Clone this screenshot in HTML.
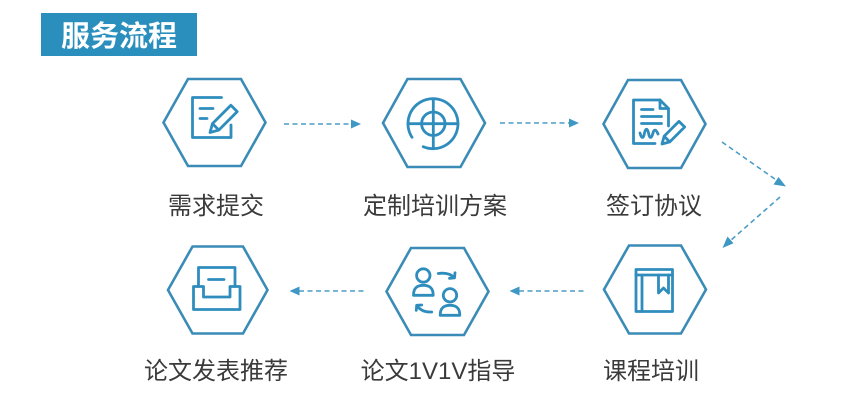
<!DOCTYPE html>
<html>
<head>
<meta charset="utf-8">
<style>
  html,body{margin:0;padding:0;background:#fff;}
  body{width:860px;height:406px;overflow:hidden;}
  svg{display:block;}
  .lbl{font-family:"Liberation Sans","Noto Sans CJK SC",sans-serif;font-size:24px;fill:#3a3a3a;}
  .hex{fill:none;stroke:#3a8cb7;stroke-width:2.6;stroke-linejoin:miter;}
  .ic{fill:none;stroke:#2f8dbd;stroke-width:2.8;stroke-linecap:round;stroke-linejoin:round;}
  .dash{fill:none;stroke:#4b9cc6;stroke-width:1.6;stroke-dasharray:5 3.5;}
  .ah{fill:#3f97c4;}
</style>
</head>
<body>
<svg width="860" height="406" viewBox="0 0 860 406" xmlns="http://www.w3.org/2000/svg">
  <defs>
    <linearGradient id="hg" x1="0" y1="0" x2="0" y2="1">
      <stop offset="0" stop-color="#4a9dc8"/>
      <stop offset="1" stop-color="#347fa9"/>
    </linearGradient>
  </defs>

  <!-- Title -->
  <rect x="41" y="13" width="156" height="43" fill="#2b8fbd"/>
  <text x="119" y="46" text-anchor="middle" style="font-family:'Liberation Sans','Noto Sans CJK SC',sans-serif;font-size:29px;font-weight:bold;fill:#fff;">服务流程</text>

  <!-- Hexagons row 1 -->
  <polygon class="hex" stroke="url(#hg)" points="163.5,122.5 188,79 241,79 265.5,122.5 241,166 188,166"/>
  <polygon class="hex" stroke="url(#hg)" points="383,123 407.5,79 460.5,79 485,123 460.5,167 407.5,167"/>
  <polygon class="hex" stroke="url(#hg)" points="603.5,124 628,80 681,80 705.5,124 681,168 628,168"/>

  <!-- Hexagons row 2 -->
  <polygon class="hex" stroke="url(#hg)" points="168,290 192.5,246.5 243,246.5 267.5,290 243,333.5 192.5,333.5"/>
  <polygon class="hex" stroke="url(#hg)" points="386.5,291.5 411,248 464,248 488.5,291.5 464,335 411,335"/>
  <polygon class="hex" stroke="url(#hg)" points="604,289.5 629,245.5 681,245.5 706,289.5 681,333.5 629,333.5"/>

  <!-- Icon 1: edit document -->
  <path class="ic" d="M221.5,97.5 H192.5 V137.5 H231 V125"/>
  <path class="ic" d="M200,108.5 H213 M200,118.5 H207"/>
  <g transform="translate(210,132.5) rotate(-45)">
    <path class="ic" d="M0,0 L8,-4.5 L34,-4.5 L34,4.5 L8,4.5 Z M8,-4.5 L8,4.5"/>
  </g>

  <!-- Icon 2: target -->
  <path class="ic" d="M412,137.3 A25,25 0 1 1 423.2,146.7"/>
  <circle class="ic" cx="433.3" cy="123.7" r="11.7"/>
  <path class="ic" d="M408.5,123.7 H458 M433.3,99 V148.5"/>

  <!-- Icon 3: contract -->
  <path class="ic" d="M660,100 H633.5 V143.5 H655"/>
  <path class="ic" d="M660,100 L668.5,108.5 V126 M660,100 V108.5 H668.5"/>
  <path class="ic" d="M641.5,109.5 H653 M641.5,116.5 H661.5 M641.5,123.5 H661.5"/>
  <path class="ic" d="M640,133 c1.5,6 3.5,6 4.5,0 c1,-5 3,-5 4,0 c1,6 3,6 4.5,0 c1,-4 3,-4 5,1"/>
  <g transform="translate(662,144) rotate(-45)">
    <path class="ic" d="M0,0 L7,-4 L28,-4 L28,4 L7,4 Z M7,-4 L7,4"/>
  </g>

  <!-- Icon 4: tray / publish -->
  <path class="ic" d="M198.5,286.5 V267.5 H235 V286.5"/>
  <path class="ic" d="M208.5,279.5 H224"/>
  <path class="ic" d="M193.5,286.5 H203.5 V297 H230 V286.5 H240 V309.5 H193.5 Z"/>

  <!-- Icon 5: 1v1 people -->
  <circle class="ic" cx="423.3" cy="275.5" r="6.7"/>
  <path class="ic" d="M413.5,295.3 C413.5,288 417,285.3 423.3,285.3 C429.6,285.3 433.2,288 433.2,295.3 Z"/>
  <circle class="ic" cx="450" cy="295.3" r="6.7"/>
  <path class="ic" d="M440.2,315.3 C440.2,308 443.7,305.3 450,305.3 C456.3,305.3 459.8,308 459.8,315.3 Z"/>
  <path class="ic" d="M438.3,273.5 Q449,272 454.5,277.8 M449.5,278.3 L454.5,277.8 L455,272.8"/>
  <path class="ic" d="M431.7,312 Q421.5,312.5 416.7,305.3 M421.7,305 L416.7,305.3 L416.3,310.3"/>

  <!-- Icon 6: book -->
  <rect class="ic" x="636" y="269.5" width="36.5" height="42"/>
  <path class="ic" d="M636,275 H672.5 M642,275 V311.5"/>
  <path class="ic" d="M658.5,275 V293 L663.5,288 L668.5,293 V275"/>

  <!-- Connectors row 1 -->
  <path class="dash" d="M284,124 H352"/>
  <polygon class="ah" points="361,124 351,119.5 351,128.5"/>
  <path class="dash" d="M500,123 H570"/>
  <polygon class="ah" points="579,123 569,118.5 569,127.5"/>

  <!-- Diagonal connectors -->
  <path class="dash" d="M722,142 L777,180.5"/>
  <polygon class="ah" points="786,186.5 773.5,184.5 778.5,177"/>
  <path class="dash" d="M780,197 L730,241"/>
  <polygon class="ah" points="722.5,248 727.5,236.5 733.5,243.2"/>

  <!-- Connectors row 2 -->
  <path class="dash" d="M299,291 H367"/>
  <polygon class="ah" points="289.5,291 299.5,286.5 299.5,295.5"/>
  <path class="dash" d="M519,291 H587"/>
  <polygon class="ah" points="509.5,291 519.5,286.5 519.5,295.5"/>

  <!-- Labels -->
  <text class="lbl" x="216" y="214" text-anchor="middle">需求提交</text>
  <text class="lbl" x="435" y="214" text-anchor="middle">定制培训方案</text>
  <text class="lbl" x="654" y="214" text-anchor="middle">签订协议</text>
  <text class="lbl" x="216" y="379" text-anchor="middle">论文发表推荐</text>
  <text class="lbl" x="438" y="379" text-anchor="middle">论文1V1V指导</text>
  <text class="lbl" x="651" y="379" text-anchor="middle">课程培训</text>
</svg>
</body>
</html>
